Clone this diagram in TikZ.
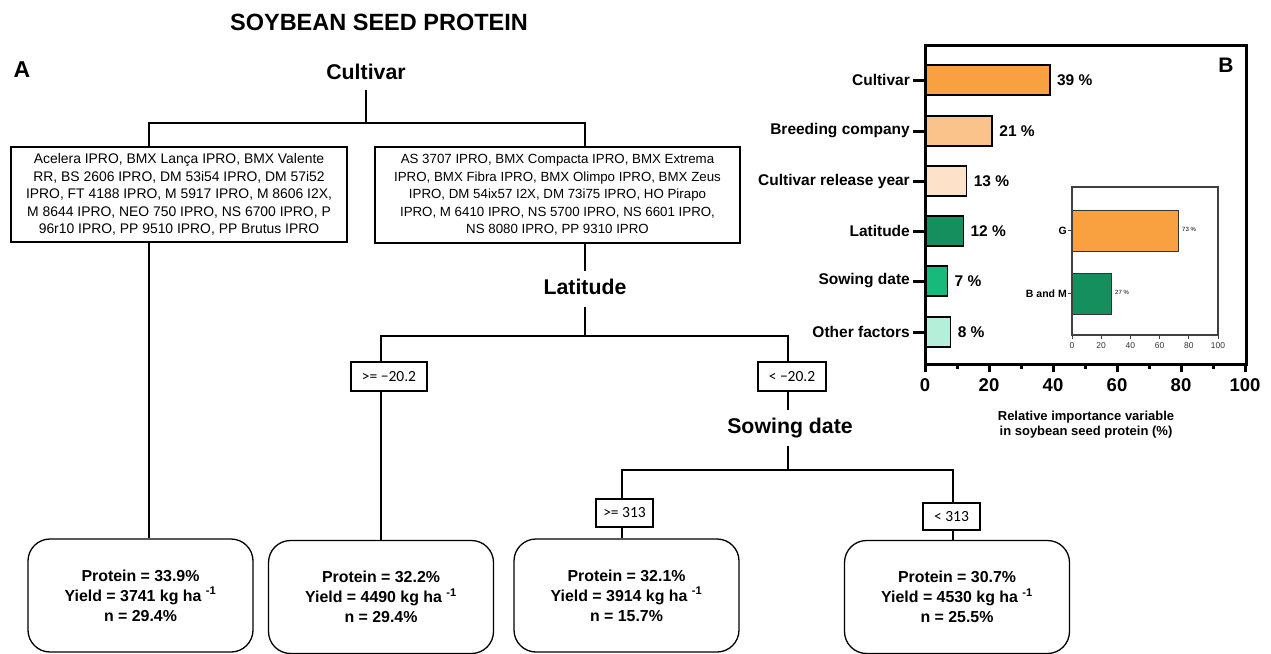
\documentclass[tikz,border=0pt]{standalone}
\usepackage{fontspec}
\setmainfont{Liberation Sans}
\newfontfamily\carl{Carlito}
\definecolor{orA}{HTML}{F9A040}
\definecolor{orB}{HTML}{FAC38C}
\definecolor{orC}{HTML}{FDE1C8}
\definecolor{grA}{HTML}{168F5F}
\definecolor{grB}{HTML}{17BA7A}
\definecolor{grC}{HTML}{B5EED9}
\begin{document}
\begin{tikzpicture}[x=1pt,y=-1pt,
  tl/.style={line width=1.8pt},
  treelbl/.style={font=\bfseries\fontsize{21.3}{24}\selectfont, inner sep=0pt},
  listbox/.style={draw, line width=1.6pt, align=center, inner sep=0pt},
  splitbox/.style={draw, line width=1.6pt, font=\carl\fontsize{15.5}{18}\selectfont, inner sep=0pt},
  leafbox/.style={draw, line width=1.3pt, rounded corners=22pt, align=center, font=\bfseries\fontsize{15.9}{20}\selectfont, inner sep=0pt, minimum width=225pt, minimum height=113pt},
  barlbl/.style={font=\bfseries\fontsize{15.5}{18}\selectfont, inner sep=0pt},
  bar/.style={draw=black, line width=1.5pt},
  ibar/.style={draw=black!80, line width=1pt}]
\useasboundingbox (0,0) rectangle (1271,653);

% titles
\node[font=\bfseries\fontsize{23.5}{27}\selectfont, inner sep=0pt] (title) at (379,22) {SOYBEAN SEED PROTEIN};
\node[font=\bfseries\fontsize{23}{26}\selectfont, inner sep=0pt] (pA) at (22,70) {A};

% tree labels
\node[treelbl] (cult) at (366,72) {Cultivar};
\node[treelbl] (lat) at (585,287) {Latitude};
\node[treelbl] (sow) at (790,428) {Sowing date};

% cultivar boxes
\node[listbox, font=\fontsize{13.9}{17.6}\selectfont, minimum width=336pt, minimum height=95pt] (lbox) at (179,194.5) {Acelera IPRO, BMX Lança IPRO, BMX Valente\\RR, BS 2606 IPRO, DM 53i54 IPRO, DM 57i52\\IPRO, FT 4188 IPRO, M 5917 IPRO, M 8606 I2X,\\M 8644 IPRO, NEO 750 IPRO, NS 6700 IPRO, P\\96r10 IPRO, PP 9510 IPRO, PP Brutus IPRO};
\node[listbox, font=\fontsize{13.3}{17.6}\selectfont, minimum width=365pt, minimum height=96pt] (rbox) at (557.5,195) {AS 3707 IPRO, BMX Compacta IPRO, BMX Extrema\\IPRO, BMX Fibra IPRO, BMX Olimpo IPRO, BMX Zeus\\IPRO, DM 54ix57 I2X, DM 73i75 IPRO, HO Pirapo\\IPRO, M 6410 IPRO, NS 5700 IPRO, NS 6601 IPRO,\\NS 8080 IPRO, PP 9310 IPRO};

% split boxes
\node[splitbox, minimum width=76pt, minimum height=29pt] (s1) at (389,376.5) {>= −20.2};
\node[splitbox, minimum width=68pt, minimum height=29pt] (s2) at (792,376.5) {< −20.2};
\node[splitbox, minimum width=57pt, minimum height=28pt] (s3) at (624.5,513) {>= 313};
\node[splitbox, minimum width=57pt, minimum height=27pt] (s4) at (951.5,516.5) {< 313};

% leaves
\node[leafbox] (leaf1) at (140.5,595.5) {Protein = 33.9\%\\Yield = 3741 kg ha \textsuperscript{-1}\\n = 29.4\%};
\node[leafbox] (leaf2) at (381,597) {Protein = 32.2\%\\Yield = 4490 kg ha \textsuperscript{-1}\\n = 29.4\%};
\node[leafbox] (leaf3) at (626.5,595.5) {Protein = 32.1\%\\Yield = 3914 kg ha \textsuperscript{-1}\\n = 15.7\%};
\node[leafbox] (leaf4) at (957,597) {Protein = 30.7\%\\Yield = 4530 kg ha \textsuperscript{-1}\\n = 25.5\%};

% tree connectors
\coordinate (c1L) at (149,123);
\coordinate (c1R) at (585,123);
\coordinate (c2L) at (381,336);
\coordinate (c2R) at (788,336);
\coordinate (c3L) at (622,470);
\coordinate (c3R) at (953,470);
\draw[tl, shorten <=10pt] (cult) -- (cult |- c1L);
\draw[tl] (lbox.north -| c1L) -- (c1L) -- (c1R) -- (rbox.north -| c1R);
\draw[tl] (lbox.south -| c1L) -- (leaf1.north -| c1L);
\draw[tl, shorten >=8pt] (rbox.south -| c1R) -- (lat);
\draw[tl, shorten <=12pt] (lat) -- (lat |- c2L);
\draw[tl] (s1.north -| c2L) -- (c2L) -- (c2R) -- (s2.north -| c2R);
\draw[tl] (s1.south -| c2L) -- (leaf2.north -| c2L);
\draw[tl, shorten >=8pt] (s2.south -| c2R) -- (sow.north -| c2R);
\draw[tl, shorten <=8pt] (sow.south -| c2R) -- (c2R |- c3L);
\draw[tl] (s3.north -| c3L) -- (c3L) -- (c3R) -- (s4.north -| c3R);
\draw[tl] (s3.south -| c3L) -- (leaf3.north -| c3L);
\draw[tl] (s4.south -| c3R) -- (leaf4.north -| c3R);

% ===== panel B =====
\foreach \lab/\val/\yc/\col in {Cultivar/39/80/orA, Breeding company/21/131/orB, Cultivar release year/13/181/orC, Latitude/12/231/grA, Sowing date/7/281/grB, Other factors/8/332/grC}{
  \filldraw[bar, fill=\col] (925,\yc-15) rectangle ({925+3.2*\val},\yc+15);
  \draw[line width=3pt] (913,\yc) -- (925,\yc);
  \node[barlbl, anchor=east] at (910,\yc) {\lab};
  \node[barlbl, anchor=west] at ({925+3.2*\val+7},\yc) {\val\ \%};
}
\draw[line width=3pt] (925,45) rectangle (1246,364);
\foreach \k in {0,20,40,60,80,100}{
  \draw[line width=3pt] ({925+3.2*\k},364) -- ({925+3.2*\k},372);
  \node[font=\bfseries\fontsize{18.5}{20}\selectfont, inner sep=0pt] at ({925+3.2*\k},385) {\k};
}
\foreach \k in {10,30,50,70,90}{
  \draw[line width=3pt] ({925+3.2*\k},364) -- ({925+3.2*\k},369);
}
\node[font=\bfseries\fontsize{21}{24}\selectfont, inner sep=0pt] (pB) at (1226,65) {B};
\node[align=center, font=\bfseries\fontsize{13}{15}\selectfont, inner sep=0pt] (xt) at (1086,424.5) {Relative importance variable\\in soybean seed protein (\%)};

% inset
\filldraw[ibar, fill=orA] (1072,210) rectangle (1178.6,251);
\filldraw[ibar, fill=grA] (1072,273) rectangle (1111.4,314);
\draw[black!75, line width=1.2pt] (1072,187) rectangle (1218,335);
\draw[black!75, line width=1pt] (1068,230.5) -- (1072,230.5);
\draw[black!75, line width=1pt] (1068,293.5) -- (1072,293.5);
\node[font=\bfseries\fontsize{10.5}{12}\selectfont, inner sep=0pt, anchor=east] at (1067,230.5) {G};
\node[font=\bfseries\fontsize{10.5}{12}\selectfont, inner sep=0pt, anchor=east] at (1067,293.5) {B and M};
\node[font=\fontsize{6}{7}\selectfont, inner sep=0pt, anchor=west] at (1182,229) {73 \%};
\node[font=\fontsize{6}{7}\selectfont, inner sep=0pt, anchor=west] at (1115,292) {27 \%};
\foreach \k in {0,20,40,60,80,100}{
  \draw[black!75, line width=1pt] ({1072+1.46*\k},335) -- ({1072+1.46*\k},339);
  \node[font=\fontsize{8.5}{10}\selectfont, text=black!80, inner sep=0pt] at ({1072+1.46*\k},346) {\k};
}
\end{tikzpicture}
\end{document}
